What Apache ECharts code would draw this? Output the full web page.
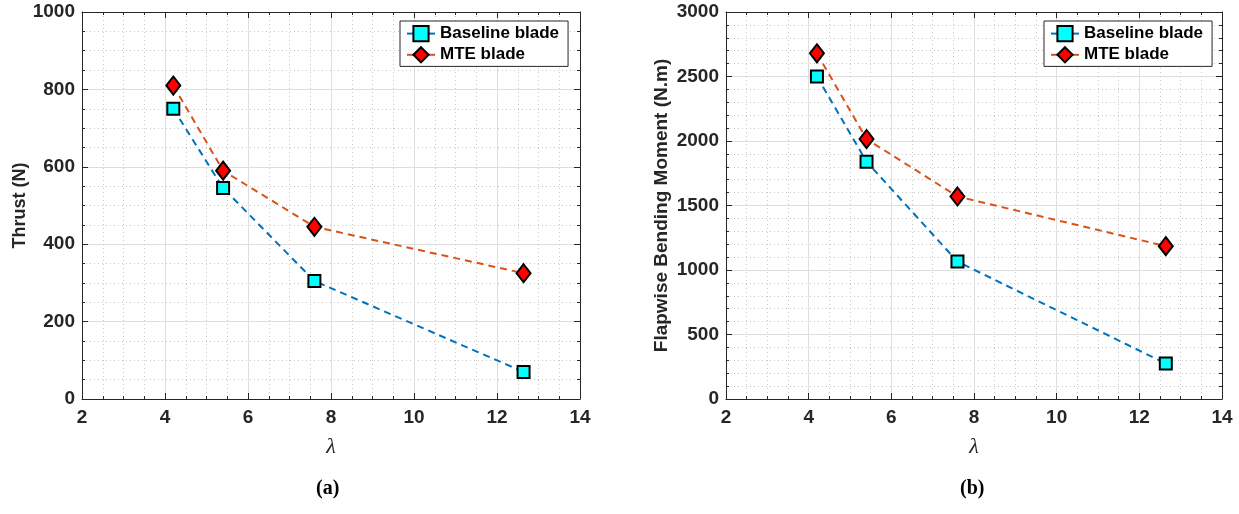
<!DOCTYPE html>
<html>
<head>
<meta charset="utf-8">
<script src="https://cdn.jsdelivr.net/npm/echarts@6/dist/echarts.min.js"></script>
<style>
  html, body { margin: 0; padding: 0; background: #fff; }
  #chart { width: 1239px; height: 514px; }
</style>
</head>
<body>
<div id="chart"></div>
<script>
// Tip-speed ratios tested
const lambdaValues = [4.2, 5.4, 7.6, 12.64];
// Rotor thrust (N)
const thrustBaseline = [750, 545, 305, 70];
const thrustMTE = [810, 590, 445, 325];
// Flapwise bending moment (N.m)
const momentBaseline = [2500, 1840, 1065, 275];
const momentMTE = [2680, 2015, 1570, 1185];

const seriesNames = ['Baseline blade', 'MTE blade'];
const panelLabels = ['(a)', '(b)'];
const yTitles = ['Thrust (N)', 'Flapwise Bending Moment (N.m)'];

const ink = '#262626';
const sansFamily = 'Liberation Sans, Arial, Helvetica, sans-serif';

function pairs(xs, ys) { return xs.map((x, i) => [x, ys[i]]); }
const plainNumber = v => String(v);

function xAxisPair(gridIndex) {
  const common = {
    type: 'value', gridIndex, min: 2, max: 14, interval: 2,
    axisLine: { show: true, onZero: false, lineStyle: { color: ink, width: 1 } },
    axisTick: { show: true, inside: true, length: 6, lineStyle: { color: ink } },
    minorTick: { show: true, splitNumber: 4, length: 3, lineStyle: { color: ink } }
  };
  return [
    Object.assign({}, common, {
      position: 'bottom',
      axisLabel: { color: ink, fontSize: 19, fontWeight: 'bold', fontFamily: sansFamily, margin: 9, formatter: plainNumber },
      name: 'λ', nameLocation: 'middle', nameGap: 37,
      nameTextStyle: { color: ink, fontSize: 22, fontStyle: 'italic', fontFamily: 'Liberation Serif, Times New Roman, serif' },
      splitLine: { show: true, lineStyle: { color: '#dedede', width: 1 } },
      minorSplitLine: { show: true, lineStyle: { color: '#c8c8c8', type: [1, 3], width: 1 } }
    }),
    Object.assign({}, common, {
      position: 'top',
      axisLabel: { show: false },
      splitLine: { show: false }
    })
  ];
}

function yAxisPair(gridIndex, max, interval, minorSplit, title, nameGap, titleSize) {
  const common = {
    type: 'value', gridIndex, min: 0, max, interval,
    axisLine: { show: true, onZero: false, lineStyle: { color: ink, width: 1 } },
    axisTick: { show: true, inside: true, length: 6, lineStyle: { color: ink } },
    minorTick: { show: true, splitNumber: minorSplit, length: 3, lineStyle: { color: ink } }
  };
  return [
    Object.assign({}, common, {
      position: 'left',
      axisLabel: { color: ink, fontSize: 19, fontWeight: 'bold', fontFamily: sansFamily, margin: 7, formatter: plainNumber },
      name: title, nameLocation: 'middle', nameGap,
      nameTextStyle: { color: ink, fontSize: titleSize, fontWeight: 'bold', fontFamily: sansFamily },
      splitLine: { show: true, lineStyle: { color: '#dedede', width: 1 } },
      minorSplitLine: { show: true, lineStyle: { color: '#c8c8c8', type: [1, 3], width: 1 } }
    }),
    Object.assign({}, common, {
      position: 'right',
      axisLabel: { show: false },
      splitLine: { show: false }
    })
  ];
}

function lineSeries(name, data, axisIdx, color, symbol, symbolSize, fill) {
  return {
    name, type: 'line', data,
    xAxisIndex: axisIdx, yAxisIndex: axisIdx,
    symbol, symbolSize,
    showAllSymbol: true,
    lineStyle: { color, width: 2, type: [7, 5] },
    itemStyle: { color: fill, borderColor: '#000', borderWidth: 2 },
    emphasis: { disabled: true },
    z: 3
  };
}

function legendAt(left) {
  return {
    data: seriesNames,
    orient: 'vertical',
    left, top: 21,
    padding: [4, 9, 3, 6],
    itemGap: 4,
    itemWidth: 28, itemHeight: 19,
    backgroundColor: '#fff',
    borderColor: ink, borderWidth: 1,
    lineStyle: { type: 'solid' },
    textStyle: { color: '#000', fontSize: 17, fontWeight: 'bold', fontFamily: sansFamily },
    selectedMode: false
  };
}

const xA = xAxisPair(0), xB = xAxisPair(1);
const yA = yAxisPair(0, 1000, 200, 4, yTitles[0], 53, 18);
const yB = yAxisPair(1, 3000, 500, 5, yTitles[1], 55, 19);

const option = {
  animation: false,
  backgroundColor: '#fff',
  grid: [
    { left: 82, right: 659, top: 12, bottom: 115 },
    { left: 726, right: 17, top: 12, bottom: 115 }
  ],
  // axes 0/1 belong to panel (a) (bottom/left + top/right), 2/3 to panel (b)
  xAxis: [xA[0], xB[0], xA[1], xB[1]],
  yAxis: [yA[0], yB[0], yA[1], yB[1]],
  legend: [legendAt(400), legendAt(1044)],
  series: [
    lineSeries(seriesNames[0], pairs(lambdaValues, thrustBaseline), 0, '#0072BD', 'rect', 12, '#00FFFF'),
    lineSeries(seriesNames[1], pairs(lambdaValues, thrustMTE), 0, '#D95319', 'diamond', [14, 18], '#FF0000'),
    lineSeries(seriesNames[0], pairs(lambdaValues, momentBaseline), 1, '#0072BD', 'rect', 12, '#00FFFF'),
    lineSeries(seriesNames[1], pairs(lambdaValues, momentMTE), 1, '#D95319', 'diamond', [14, 18], '#FF0000')
  ],
  graphic: [
    { type: 'text', left: 331 - 15, top: 479, style: { text: panelLabels[0], fill: '#000', font: 'bold 20px "Liberation Serif", "Times New Roman", serif' } },
    { type: 'text', left: 975 - 15, top: 479, style: { text: panelLabels[1], fill: '#000', font: 'bold 20px "Liberation Serif", "Times New Roman", serif' } }
  ]
};

const chart = echarts.init(document.getElementById('chart'), null, { renderer: 'canvas' });
chart.setOption(option);
</script>
</body>
</html>
